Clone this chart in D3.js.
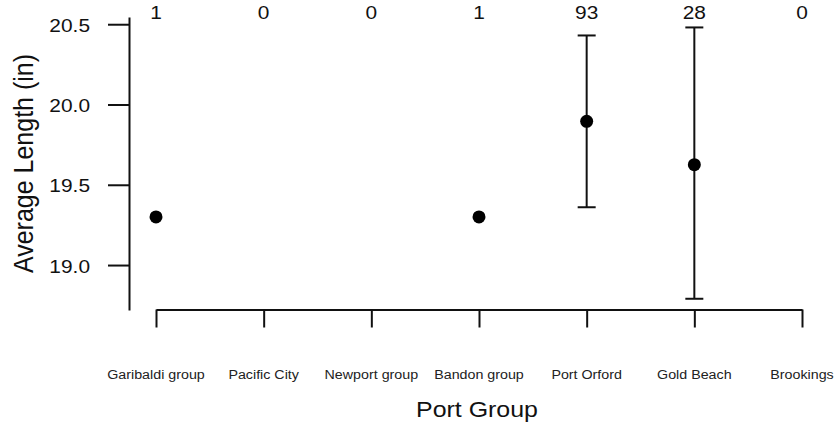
<!DOCTYPE html>
<html>
<head>
<meta charset="utf-8">
<script src="https://cdn.jsdelivr.net/npm/d3@7"></script>
<style>
  html, body { margin: 0; padding: 0; background: #fff; }
  svg { display: block; font-family: "Liberation Sans", Arial, Helvetica, sans-serif; }
</style>
</head>
<body>
<svg id="chart" width="835" height="428"></svg>
<script>
// ---- data ----
const categories = ["Garibaldi group", "Pacific City", "Newport group", "Bandon group", "Port Orford", "Gold Beach", "Brookings"];
const counts     = [1, 0, 0, 1, 93, 28, 0];
const means      = [19.30, null, null, 19.30, 19.895, 19.625, null];
const upper      = [null, null, null, null, 20.43, 20.48, null];
const lower      = [null, null, null, null, 19.36, 18.79, null];
const yTicks     = [19.0, 19.5, 20.0, 20.5];
const yLimits    = [18.72, 20.545];
const yTitle = "Average Length (in)";
const xTitle = "Port Group";

// ---- layout ----
const svg = d3.select("#chart");
const SX = 1.16; // horizontal stretch of the original raster
const x = d3.scalePoint().domain(categories).range([156, 802]);
const y = d3.scaleLinear().domain(yLimits).range([310, 17]);
const ink = "#111";

// y axis
const gy = svg.append("g").attr("transform", "translate(129,0)")
  .call(d3.axisLeft(y).tickValues(yTicks).tickSize(21).tickSizeOuter(0).tickFormat(""));
gy.selectAll("path, line").attr("stroke", ink).attr("stroke-width", 2);

svg.append("g").selectAll("text").data(yTicks).join("text")
  .attr("transform", d => `translate(90,${y(d) + 7.5}) scale(${SX},1)`)
  .attr("text-anchor", "end")
  .attr("font-size", 18)
  .attr("fill", ink)
  .text(d => d3.format(".1f")(d));

// x axis
const gx = svg.append("g").attr("transform", "translate(0,309.5)")
  .call(d3.axisBottom(x).tickSize(18).tickSizeOuter(0).tickFormat(""));
gx.selectAll("path, line").attr("stroke", ink).attr("stroke-width", 2);

svg.append("g").selectAll("text").data(categories).join("text")
  .attr("transform", d => `translate(${x(d)},379) scale(${SX},1)`)
  .attr("text-anchor", "middle")
  .attr("font-size", 12.3)
  .attr("fill", "#222")
  .text(d => d);

// counts on top
svg.append("g").selectAll("text").data(categories).join("text")
  .attr("transform", (d, i) => `translate(${x(d)},18.5) scale(${SX},1)`)
  .attr("text-anchor", "middle")
  .attr("font-size", 18)
  .attr("fill", ink)
  .text((d, i) => counts[i]);

// error bars
const eb = categories.map((c, i) => ({c, lo: lower[i], hi: upper[i]})).filter(d => d.lo != null);
const ge = svg.append("g").attr("stroke", ink).attr("stroke-width", 2);
ge.selectAll("line.v").data(eb).join("line").attr("class", "v")
  .attr("x1", d => x(d.c)).attr("x2", d => x(d.c))
  .attr("y1", d => y(d.lo)).attr("y2", d => y(d.hi));
ge.selectAll("line.t").data(eb).join("line").attr("class", "t")
  .attr("x1", d => x(d.c) - 9).attr("x2", d => x(d.c) + 9)
  .attr("y1", d => y(d.hi)).attr("y2", d => y(d.hi));
ge.selectAll("line.b").data(eb).join("line").attr("class", "b")
  .attr("x1", d => x(d.c) - 9).attr("x2", d => x(d.c) + 9)
  .attr("y1", d => y(d.lo)).attr("y2", d => y(d.lo));

// points
const pts = categories.map((c, i) => ({c, m: means[i]})).filter(d => d.m != null);
svg.append("g").selectAll("circle").data(pts).join("circle")
  .attr("cx", d => x(d.c)).attr("cy", d => y(d.m))
  .attr("r", 6.5).attr("fill", "#000");

// titles
svg.append("text")
  .attr("transform", `translate(477,416.5) scale(${SX},1)`)
  .attr("text-anchor", "middle")
  .attr("font-size", 21.5)
  .attr("fill", ink)
  .text(xTitle);

svg.append("text")
  .attr("transform", `translate(33,163.5) rotate(-90) scale(1,1.12)`)
  .attr("text-anchor", "middle")
  .attr("font-size", 25)
  .attr("fill", ink)
  .text(yTitle);
</script>
</body>
</html>
